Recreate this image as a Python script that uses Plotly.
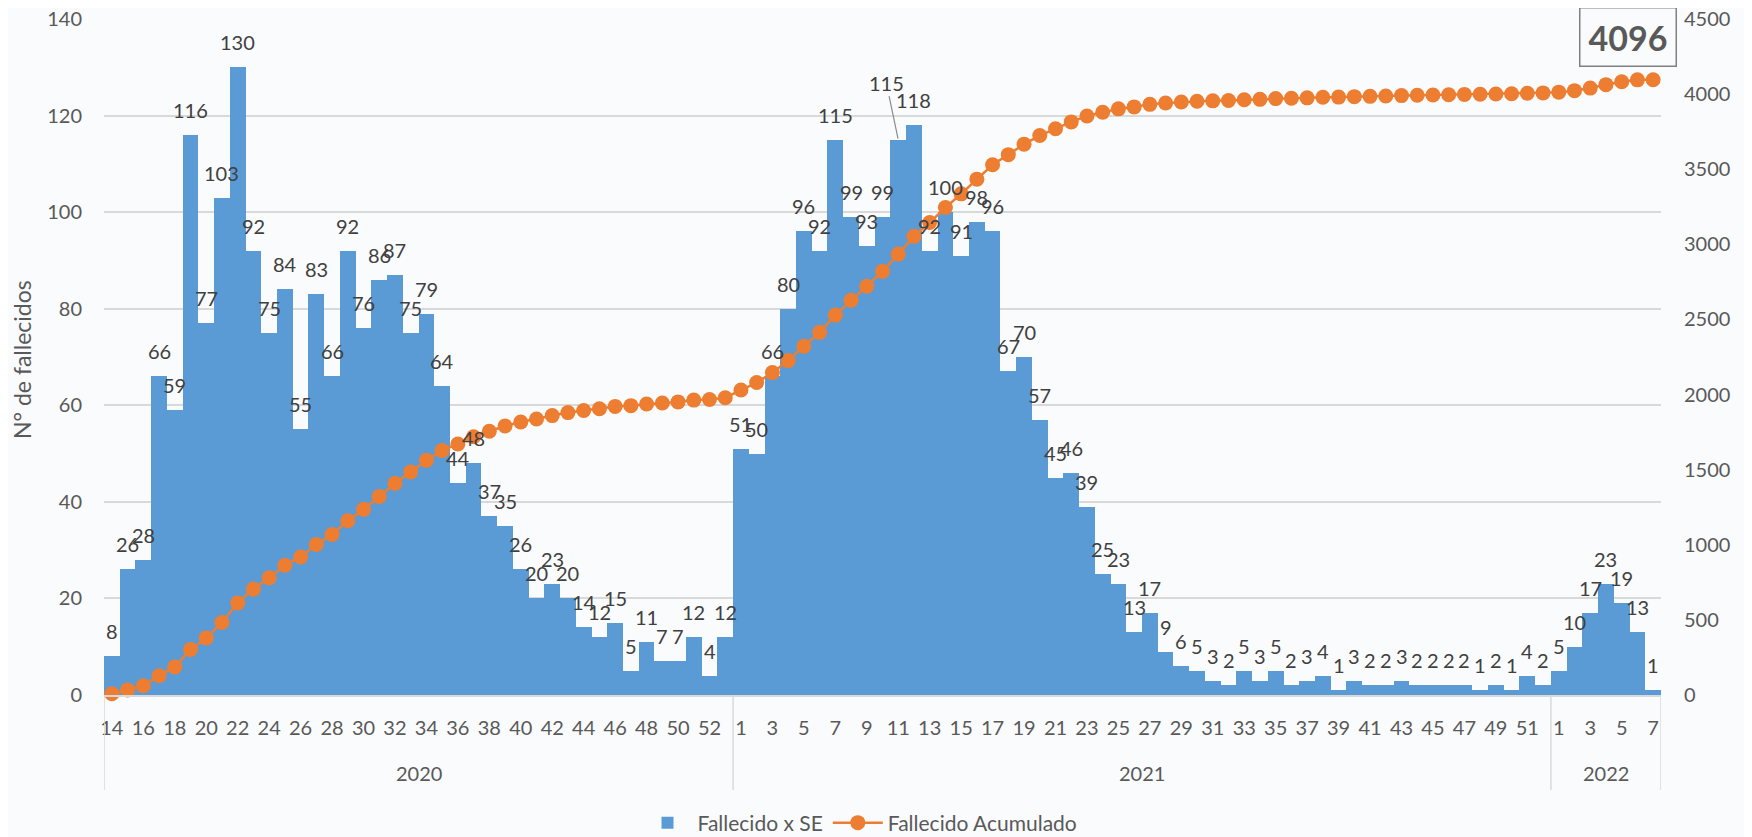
import plotly.graph_objects as go

# ---- data ----
years = ["2020"] * 40 + ["2021"] * 52 + ["2022"] * 7
weeks = list(range(14, 54)) + list(range(1, 53)) + list(range(1, 8))

deaths_2020 = [8, 26, 28, 66, 59, 116, 77, 103, 130, 92,
               75, 84, 55, 83, 66, 92, 76, 86, 87, 75,
               79, 64, 44, 48, 37, 35, 26, 20, 23, 20,
               14, 12, 15, 5, 11, 7, 7, 12, 4, 12]
deaths_2021 = [51, 50, 66, 80, 96, 92, 115, 99, 93, 99,
               115, 118, 92, 100, 91, 98, 96, 67, 70, 57,
               45, 46, 39, 25, 23, 13, 17, 9, 6, 5,
               3, 2, 5, 3, 5, 2, 3, 4, 1, 3,
               2, 2, 3, 2, 2, 2, 2, 1, 2, 1,
               4, 2]
deaths_2022 = [5, 10, 17, 23, 19, 13, 1]
deaths = deaths_2020 + deaths_2021 + deaths_2022

cumulative = [8, 34, 62, 128, 187, 303, 380, 483, 613, 705,
              780, 864, 919, 1002, 1068, 1160, 1236, 1322, 1409, 1484,
              1563, 1627, 1671, 1719, 1756, 1791, 1817, 1837, 1860, 1880,
              1894, 1906, 1921, 1926, 1937, 1944, 1951, 1963, 1967, 1979,
              2030, 2080, 2146, 2226, 2322, 2414, 2529, 2628, 2721, 2820,
              2935, 3053, 3145, 3245, 3336, 3434, 3530, 3597, 3667, 3724,
              3769, 3815, 3854, 3879, 3902, 3915, 3932, 3941, 3947, 3952,
              3955, 3957, 3962, 3965, 3970, 3972, 3975, 3979, 3980, 3983,
              3985, 3987, 3990, 3992, 3994, 3996, 3998, 3999, 4001, 4002,
              4006, 4008,
              4013, 4023, 4040, 4063, 4082, 4095, 4096]

total_label = "4096"
y_title = "N° de fallecidos"
leader_index = 50  # 2021 week 11 label moved up with a leader line

# ---- styling ----
FONT = "Lato, 'Open Sans', sans-serif"
BLUE = "#5B9BD5"
ORANGE = "#ED7D31"
TXT = "#404040"
TICK = "#595959"
GRID = "#D9D9D9"

W, H = 1752, 837
OFF = 8  # browser default body margin shifts the figure
# target plot area in page pixels: x 104..1661, y 19..695
L = 104 - OFF
T = 19 - OFF
pw, ph = 1557, 676
R = W - L - pw
B = H - T - ph


def px_x(px):  # page px -> paper
    return (px - OFF - L) / pw


def px_y(py):  # page py -> paper
    return (H - B - (py - OFF)) / ph


x = list(range(len(deaths)))

fig = go.Figure()
fig.add_trace(go.Bar(
    x=x, y=deaths, name="Fallecido x SE",
    marker=dict(color=BLUE, line=dict(width=0)),
    hoverinfo="y",
))
fig.add_trace(go.Scatter(
    x=x, y=cumulative, name="Fallecido Acumulado", yaxis="y2",
    mode="lines+markers",
    line=dict(color=ORANGE, width=2.5),
    marker=dict(color=ORANGE, size=15),
    cliponaxis=False,
))

tickvals = [i for i in x if i % 2 == 0]
ticktext = [str(weeks[i]) for i in tickvals]

groups = []
start = 0
for i in range(1, len(years) + 1):
    if i == len(years) or years[i] != years[start]:
        groups.append((years[start], start, i - 1))
        start = i

shapes = []
annotations = []

# data labels (annotations so they sit above bars and the line)
for i, v in zip(x, deaths):
    if i == leader_index:
        continue
    annotations.append(dict(x=i, y=v, xref="x", yref="y", text=str(v),
                            showarrow=False, xanchor="center", yanchor="bottom",
                            yshift=11, font=dict(family=FONT, size=20, color=TXT)))

bounds = [g[1] - 0.5 for g in groups] + [groups[-1][2] + 0.5]
for b in bounds:
    shapes.append(dict(type="line", xref="x", yref="paper", x0=b, x1=b,
                       y0=0, y1=px_y(790), line=dict(color=GRID, width=1.5)))
for name, a, b in groups:
    annotations.append(dict(x=(a + b) / 2, y=px_y(773), xref="x", yref="paper",
                            text=name, showarrow=False,
                            font=dict(family=FONT, size=20, color=TICK),
                            xanchor="center", yanchor="middle"))

annotations.append(dict(x=leader_index, y=deaths[leader_index], xref="x", yref="y",
                        text=str(deaths[leader_index]), showarrow=True,
                        arrowhead=0, arrowwidth=1.2, arrowcolor="#8C8C8C",
                        ax=-12, ay=-57, standoff=1,
                        font=dict(family=FONT, size=20, color=TXT)))

annotations.append(dict(x=px_x(1628), y=px_y(37), xref="paper", yref="paper",
                        text="<b>%s</b>" % total_label, showarrow=False,
                        xanchor="center", yanchor="middle",
                        font=dict(family=FONT, size=34, color="#595959"),
                        bordercolor="#808080", borderwidth=1.5, borderpad=8))

annotations.append(dict(x=px_x(22), y=px_y(360), xref="paper", yref="paper",
                        text=y_title, textangle=-90, showarrow=False,
                        xanchor="center", yanchor="middle",
                        font=dict(family=FONT, size=23, color=TICK)))

fig.update_layout(
    width=W, height=H,
    margin=dict(l=L, r=R, t=T, b=B, pad=0, autoexpand=False),
    paper_bgcolor="#FAFBFD", plot_bgcolor="rgba(0,0,0,0)",
    bargap=0,
    font=dict(family=FONT, size=20, color=TICK),
    xaxis=dict(range=[-0.5, len(x) - 0.5], tickmode="array",
               tickvals=tickvals, ticktext=ticktext,
               tickfont=dict(family=FONT, size=20, color=TICK),
               showgrid=False, zeroline=False, showline=True,
               linecolor=GRID, linewidth=1.5, ticks="", automargin=False,
               ticklabelstandoff=14),
    yaxis=dict(range=[0, 140], dtick=20, showgrid=True, gridcolor=GRID,
               gridwidth=1.5, zeroline=False, showline=False,
               tickfont=dict(family=FONT, size=20, color=TICK),
               automargin=False, ticklabelstandoff=21,
               ticklabeloverflow="allow"),
    yaxis2=dict(range=[0, 4500], dtick=500, overlaying="y", side="right",
                showgrid=False, zeroline=False, showline=False,
                tickfont=dict(family=FONT, size=20, color=TICK),
                automargin=False, ticklabelstandoff=22,
                ticklabeloverflow="allow"),
    legend=dict(orientation="h", xref="container", yref="container",
                x=(860 - OFF) / W, y=(H - (823 - OFF)) / H,
                xanchor="center", yanchor="middle",
                font=dict(family=FONT, size=21, color=TICK),
                itemwidth=50, bgcolor="rgba(0,0,0,0)"),
    shapes=shapes, annotations=annotations,
    showlegend=True,
)

fig.write_html("out.html")
